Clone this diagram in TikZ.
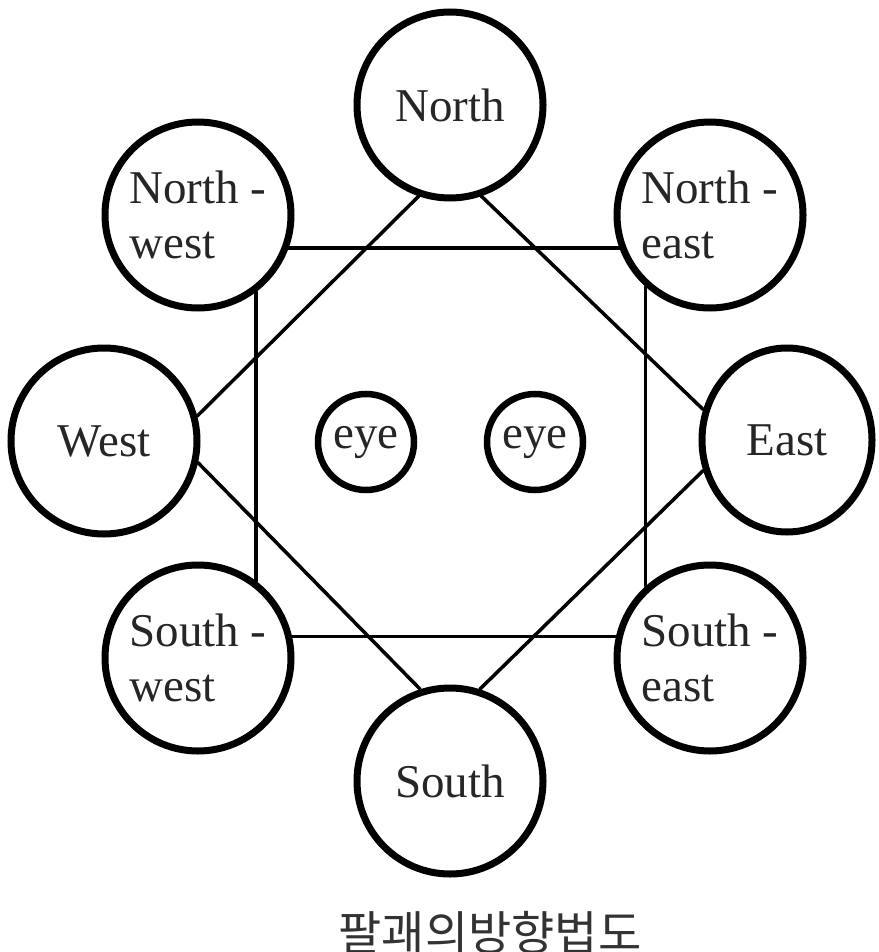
\documentclass[tikz,border=0pt]{standalone}
\usepackage{fontspec}
\setmainfont{Liberation Serif}
\newfontfamily\krfont{Noto Sans CJK KR}
\usetikzlibrary{shapes.geometric}

\tikzset{
	gua/.style={circle, draw, line width=7pt, minimum size=186pt, inner sep=0pt,
		align=left, text=black!85, font=\fontsize{47}{55}\selectfont},
	guaoval/.style={gua, ellipse, minimum width=170pt, minimum height=184pt},
	eyeball/.style={circle, draw, line width=6.5pt, minimum size=96pt, inner sep=0pt,
		text=black!85, font=\fontsize{47}{55}\selectfont},
	link/.style={line width=3.5pt},
}

\begin{document}
\begin{tikzpicture}[x=1pt, y=-1pt, line cap=round]
	% -------- Frame (pixel units, y down) --------
	\useasboundingbox (0,0) rectangle (878,952);
	
	% -------- The eight directions --------
	\node[gua] (north) at (450,105) {North};
	\node[gua] (nw) at (198,215) {North -\\west};
	\node[gua] (ne) at (710,215) {North -\\east};
	\node[gua] (west) at (104,441) {West};
	\node[guaoval] (east) at (787,440) {East};
	\node[gua] (sw) at (198,658) {South -\\west};
	\node[gua] (se) at (710,658) {South -\\east};
	\node[gua] (south) at (450,781) {South};
	
	% Eyes in the middle
	\node[eyeball] (eyeL) at (366,442) {eye};
	\node[eyeball] (eyeR) at (535,442) {eye};
	
	% -------- Square: NW - NE - SE - SW --------
	\draw[link] (nw.-20) -- (ne.200);
	\draw[link] (sw.13) -- (se.167);
	\draw[link] (nw.-53) -- (sw.53);
	\draw[link] (ne.-132) -- (se.132);
	
	% -------- Diamond: N - E - S - W --------
	\draw[link] (north.-109) -- (west.15);
	\draw[link] (north.-71) -- (east.160);
	\draw[link] (west.-13) -- (south.108);
	\draw[link] (east.-160) -- (south.72);
	
	% Caption
	\node[font=\krfont\fontsize{47}{47}\selectfont, text=black!80, anchor=base]
		(caption) at (490,950) {팔괘의방향법도};
\end{tikzpicture}
\end{document}
